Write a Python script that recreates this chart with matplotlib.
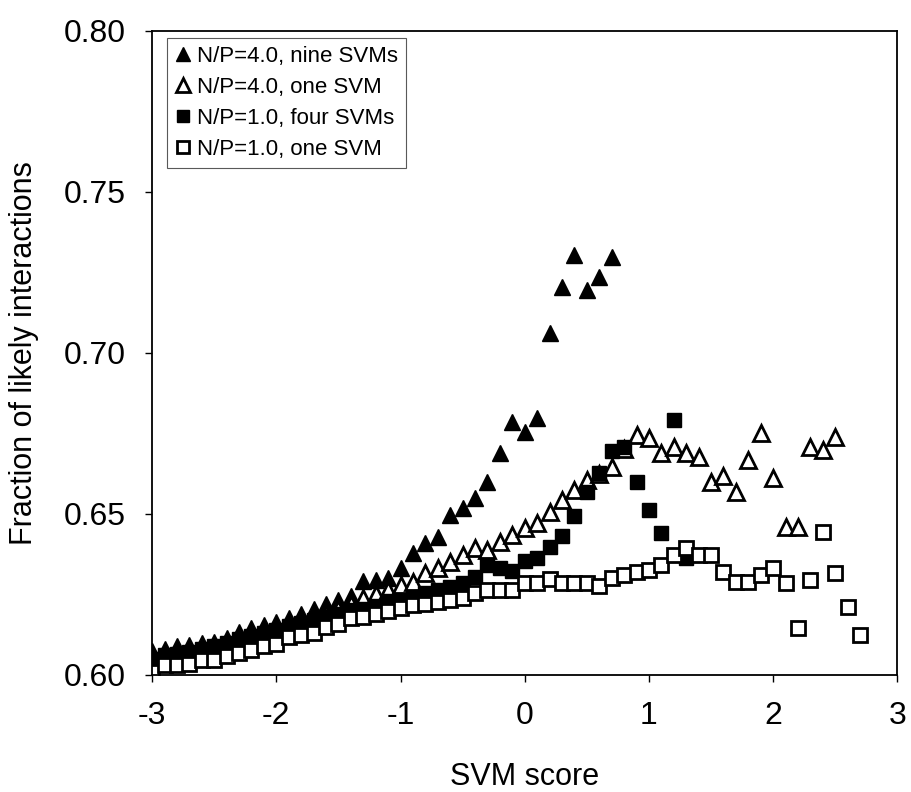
import numpy as np
from matplotlib import pyplot as plt

plt.rcParams['font.family'] = ['Liberation Sans', 'DejaVu Sans']
plt.rcParams['axes.unicode_minus'] = False

# N/P=4.0, nine SVMs (filled triangles)
x_nine = np.round(np.arange(-3.0, 0.75, 0.1), 1)
y_nine = [0.6075, 0.6080, 0.6090, 0.6093, 0.6100, 0.6102, 0.6115, 0.6134, 0.6146, 0.6155,
          0.6165, 0.6175, 0.6190, 0.6205, 0.6220, 0.6232, 0.6245, 0.6292, 0.6295, 0.6301,
          0.6332, 0.6379, 0.6410, 0.6429, 0.6497, 0.6519, 0.6550, 0.6600, 0.6690, 0.6786,
          0.6755, 0.6798, 0.7062, 0.7205, 0.7304, 0.7196, 0.7236, 0.7298]

# N/P=4.0, one SVM (open triangles)
x_one4 = np.round(np.arange(-3.0, 2.55, 0.1), 1)
y_one4 = [0.6050, 0.6055, 0.6062, 0.6068, 0.6075, 0.6080, 0.6087, 0.6102, 0.6115, 0.6124,
          0.6134, 0.6150, 0.6165, 0.6177, 0.6190, 0.6205, 0.6220, 0.6238, 0.6250, 0.6262,
          0.6280, 0.6289, 0.6317, 0.6332, 0.6351, 0.6373, 0.6394, 0.6388, 0.6413, 0.6435,
          0.6457, 0.6472, 0.6506, 0.6543, 0.6575, 0.6606, 0.6625, 0.6646, 0.6700, 0.6745,
          0.6736, 0.6689, 0.6708, 0.6689, 0.6677, 0.6599, 0.6618, 0.6568, 0.6668, 0.6752,
          0.6612, 0.6460, 0.6460, 0.6708, 0.6699, 0.6739]

# N/P=1.0, four SVMs (filled squares)
x_four = np.round(np.arange(-3.0, 1.35, 0.1), 1)
y_four = [0.6050, 0.6060, 0.6065, 0.6070, 0.6080, 0.6090, 0.6100, 0.6110, 0.6120, 0.6130,
          0.6140, 0.6150, 0.6160, 0.6170, 0.6180, 0.6190, 0.6200, 0.6205, 0.6215, 0.6228,
          0.6233, 0.6243, 0.6255, 0.6264, 0.6274, 0.6285, 0.6305, 0.6342, 0.6332, 0.6321,
          0.6352, 0.6363, 0.6398, 0.6430, 0.6492, 0.6569, 0.6627, 0.6694, 0.6708, 0.6599,
          0.6512, 0.6441, 0.6792, 0.6363]

# N/P=1.0, one SVM (open squares)
x_one1 = np.round(np.arange(-3.0, 2.75, 0.1), 1)
y_one1 = [0.6010, 0.6030, 0.6030, 0.6034, 0.6047, 0.6047, 0.6057, 0.6067, 0.6078, 0.6088,
          0.6096, 0.6117, 0.6124, 0.6130, 0.6148, 0.6158, 0.6176, 0.6181, 0.6189, 0.6197,
          0.6207, 0.6217, 0.6220, 0.6225, 0.6233, 0.6238, 0.6254, 0.6264, 0.6264, 0.6264,
          0.6285, 0.6285, 0.6297, 0.6285, 0.6285, 0.6285, 0.6276, 0.6300, 0.6311, 0.6319,
          0.6326, 0.6342, 0.6373, 0.6394, 0.6373, 0.6373, 0.6320, 0.6289, 0.6289, 0.6311,
          0.6332, 0.6286, 0.6146, 0.6295, 0.6444, 0.6317, 0.6211, 0.6124]

fig = plt.figure(figsize=(9.11, 7.92), dpi=100)
ax = fig.add_axes([0.167, 0.148, 0.818, 0.813])

ax.plot(x_nine, y_nine, '^', color='black', markersize=12, linestyle='none',
        label="N/P=4.0, nine SVMs")
ax.plot(x_one4, y_one4, '^', markerfacecolor='white', markeredgecolor='black',
        markeredgewidth=2, markersize=12, linestyle='none', label="N/P=4.0, one SVM")
ax.plot(x_four, y_four, 's', color='black', markersize=10, linestyle='none',
        label="N/P=1.0, four SVMs")
ax.plot(x_one1, y_one1, 's', markerfacecolor='white', markeredgecolor='black',
        markeredgewidth=2, markersize=10, linestyle='none', label="N/P=1.0, one SVM")

ax.set_xlim(-3, 3)
ax.set_ylim(0.60, 0.80)
ax.set_xticks([-3, -2, -1, 0, 1, 2, 3])
ax.set_yticks([0.60, 0.65, 0.70, 0.75, 0.80])
ax.set_yticklabels(["0.60", "0.65", "0.70", "0.75", "0.80"])
ax.tick_params(axis='both', labelsize=23, direction='out', length=5, width=1, pad=14)
for s in ax.spines.values():
    s.set_linewidth(1.3)

ax.set_xlabel("SVM score", fontsize=22, labelpad=22)
ax.set_ylabel("Fraction of likely interactions", fontsize=22, labelpad=18)

leg = ax.legend(loc='upper left', bbox_to_anchor=(0.02, 0.989), borderaxespad=0,
                fontsize=16, markerscale=0.8, handlelength=0.7, handletextpad=0.3,
                labelspacing=0.45, borderpad=0.35, fancybox=False, framealpha=1,
                edgecolor='0.35')
leg.get_frame().set_linewidth(0.8)

fig.savefig("out.png", dpi=100)
